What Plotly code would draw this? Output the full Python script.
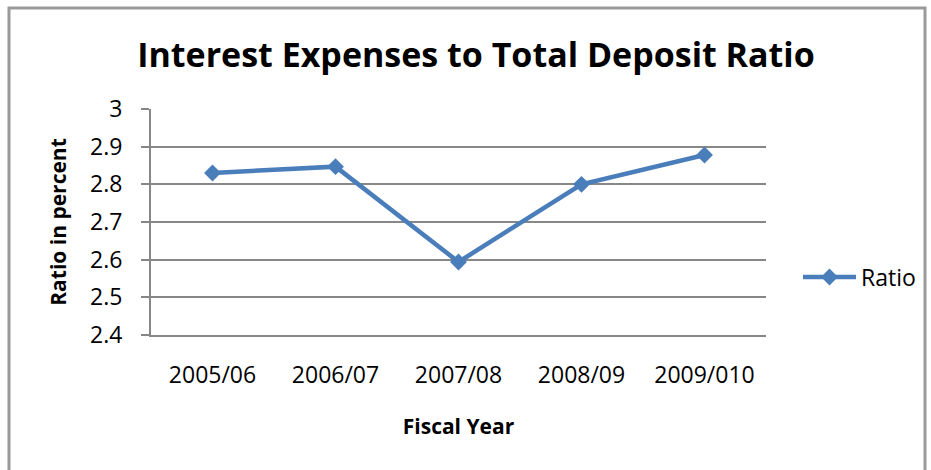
import plotly.graph_objects as go

# Fiscal years and the interest-expense-to-deposit ratio (%)
fiscal_years = ["2005/06", "2006/07", "2007/08", "2008/09", "2009/010"]
ratio_values = [2.83, 2.847, 2.594, 2.80, 2.878]
series_name = "Ratio"

FONT = "Open Sans"
BLUE = "#4a7ebb"
GRID = "#878787"

W, H = 931, 470
L, R, T, B = 151, 165, 109, 135
pw, ph = W - L - R, H - T - B


def px_x(px):
    return (px - L) / pw


def px_y(py):
    return (H - B - py) / ph


fig = go.Figure()
fig.add_trace(go.Scatter(
    x=fiscal_years,
    y=ratio_values,
    name=series_name,
    mode="lines+markers",
    line=dict(color=BLUE, width=4.5),
    marker=dict(symbol="diamond", size=13, color=BLUE),
))

fig.update_layout(
    width=W,
    height=H,
    margin=dict(l=L, r=R, t=T, b=B, autoexpand=False),
    paper_bgcolor="white",
    plot_bgcolor="white",
    font=dict(family=FONT, color="black", size=23),
    title=dict(
        text="<b>Interest Expenses to Total Deposit Ratio</b>",
        x=476 / W,
        xanchor="center",
        y=1 - 55 / H,
        yanchor="middle",
        yref="container",
        font=dict(family=FONT, size=34, color="black"),
    ),
    showlegend=True,
    legend=dict(
        x=px_x(798),
        y=px_y(277),
        xanchor="left",
        yanchor="middle",
        itemwidth=53,
        font=dict(family=FONT, size=23),
        bgcolor="rgba(0,0,0,0)",
    ),
    xaxis=dict(
        type="category",
        range=[-0.5, 4.5],
        showgrid=False,
        showline=True,
        linecolor=GRID,
        linewidth=2,
        ticks="",
        ticklabelstandoff=18,
        tickfont=dict(family=FONT, size=23),
        title=dict(text="<b>Fiscal Year</b>", font=dict(family=FONT, size=21), standoff=31),
        zeroline=False,
    ),
    yaxis=dict(
        range=[2.4, 3.0],
        dtick=0.1,
        showgrid=True,
        gridcolor=GRID,
        gridwidth=2,
        showline=True,
        linecolor=GRID,
        linewidth=2,
        ticks="outside",
        ticklen=8,
        tickcolor=GRID,
        tickwidth=2,
        ticklabelstandoff=14,
        tickfont=dict(family=FONT, size=23),
        title=dict(text="<b>Ratio in percent</b>", font=dict(family=FONT, size=21), standoff=18),
        zeroline=False,
    ),
    shapes=[
        dict(
            type="rect",
            xref="paper",
            yref="paper",
            x0=px_x(9),
            x1=px_x(925),
            y0=px_y(480),
            y1=px_y(8),
            line=dict(color="#9a9a9a", width=3),
            fillcolor="rgba(0,0,0,0)",
            layer="below",
        )
    ],
)

fig.write_html("out.html")
